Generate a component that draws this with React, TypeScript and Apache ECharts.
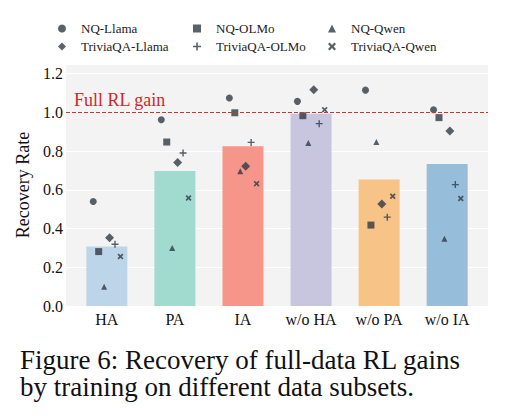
import React, { useEffect, useRef } from "react";
import * as echarts from "echarts";

// Training subsets on the x axis
const categories = ["HA", "PA", "IA", "w/o HA", "w/o PA", "w/o IA"];

// Mean recovery rate per subset (bars)
const barValues = [0.307, 0.697, 0.825, 0.993, 0.653, 0.733];

// Per-run recovery rates (markers)
const nqLlama = [0.54, 0.962, 1.074, 1.057, 1.115, 1.014];
const nqOlmo = [0.281, 0.847, 0.998, 0.983, 0.418, 0.973];
const nqQwen = [0.099, 0.3, 0.696, 0.842, 0.847, 0.347];
const triviaLlama = [0.353, 0.741, 0.722, 1.117, 0.527, 0.904];
const triviaOlmo = [0.319, 0.79, 0.845, 0.942, 0.459, 0.627];
const triviaQwen = [0.256, 0.558, 0.632, 1.014, 0.567, 0.555];

const yTicks = [0, 0.2, 0.4, 0.6, 0.8, 1.0, 1.2];
const fullGain = 1.0;

const barColors = ["#bdd5e9", "#a1dacf", "#f6968b", "#c8c5df", "#f8c386", "#96bedb"];
const markerColor = "#2f3a44";
const serif = "Liberation Serif";

const PLUS = "path://M4,0H6V4H10V6H6V10H4V6H0V4H4Z";
const CROSS = "path://M0,2L2,0L5,3L8,0L10,2L7,5L10,8L8,10L5,7L2,10L0,8L3,5Z";

const runSeries = [
  { name: "NQ-Llama", values: nqLlama, symbol: "circle", size: 7 },
  { name: "NQ-OLMo", values: nqOlmo, symbol: "rect", size: 7 },
  { name: "NQ-Qwen", values: nqQwen, symbol: "triangle", size: 6 },
  { name: "TriviaQA-Llama", values: triviaLlama, symbol: "diamond", size: 9 },
  { name: "TriviaQA-OLMo", values: triviaOlmo, symbol: PLUS, size: 7 },
  { name: "TriviaQA-Qwen", values: triviaQwen, symbol: CROSS, size: 6 },
];

// dodge spacing between the six run markers within a category
const dodgeStep = 0.08;

export default function App() {
  const ref = useRef<HTMLDivElement>(null);

  useEffect(() => {
    if (!ref.current) return;
    const chart = echarts.init(ref.current, null, { renderer: "svg" });

    const legendCol = (names: string[], left: number) => ({
      orient: "vertical" as const,
      left,
      top: 17,
      itemWidth: 8,
      itemHeight: 8,
      itemGap: 5,
      data: names,
      textStyle: {
        fontFamily: serif,
        fontSize: 13,
        lineHeight: 13,
        color: "#222",
        padding: [0, 0, 0, 10],
      },
    });

    chart.setOption({
      animation: false,
      textStyle: { fontFamily: serif },
      title: {
        text: "Figure 6: Recovery of full-data RL gains\nby training on different data subsets.",
        left: 15,
        top: 341,
        textStyle: {
          fontFamily: serif,
          fontSize: 27,
          lineHeight: 27,
          fontWeight: "normal",
          color: "#111",
        },
      },
      legend: [
        legendCol(["NQ-Llama", "TriviaQA-Llama"], 53),
        legendCol(["NQ-OLMo", "TriviaQA-OLMo"], 188),
        legendCol(["NQ-Qwen", "TriviaQA-Qwen"], 323),
      ],
      grid: {
        left: 66,
        right: 20,
        top: 64,
        bottom: 110,
        show: true,
        backgroundColor: "#f3f3f3",
        borderWidth: 0,
      },
      xAxis: {
        type: "value",
        min: -0.6,
        max: 5.6,
        axisLine: { show: false },
        axisTick: { show: false },
        splitLine: { show: false },
        axisLabel: {
          customValues: categories.map((_, i) => i),
          formatter: (v: number) => categories[Math.round(v)] ?? "",
          fontFamily: serif,
          fontSize: 16,
          color: "#111",
          margin: 5,
        },
      },
      yAxis: {
        type: "value",
        min: 0,
        max: 1.25,
        interval: 0.2,
        name: "Recovery Rate",
        nameLocation: "middle",
        nameGap: 30,
        nameTextStyle: { fontFamily: serif, fontSize: 18, color: "#111" },
        axisLine: { show: false },
        axisTick: { show: false },
        splitLine: { lineStyle: { color: "#ffffff", width: 1 } },
        axisLabel: {
          customValues: yTicks,
          formatter: (v: number) => v.toFixed(1),
          fontFamily: serif,
          fontSize: 16,
          color: "#111",
          margin: 3,
        },
      },
      series: [
        {
          type: "bar",
          name: "mean",
          barWidth: 41,
          data: barValues.map((v, i) => ({
            value: [i, v],
            itemStyle: { color: barColors[i] },
          })),
          markLine: {
            silent: true,
            symbol: "none",
            data: [{ yAxis: fullGain }],
            lineStyle: { color: "#d9302c", type: [4, 2], width: 1.2 },
            label: {
              show: true,
              position: "insideStartTop",
              formatter: "Full RL gain",
              distance: [8, 3],
              fontFamily: serif,
              fontSize: 18,
              color: "#cc2a2a",
            },
          },
          z: 1,
        },
        ...runSeries.map((s, k) => ({
          type: "scatter",
          name: s.name,
          symbol: s.symbol,
          symbolSize: s.size,
          itemStyle: { color: markerColor },
          data: s.values.map((v, i) => [i + (k - 2.5) * dodgeStep, v]),
          z: 3,
        })),
      ],
    });

    return () => chart.dispose();
  }, []);

  return (
    <div
      ref={ref}
      style={{ position: "absolute", left: 0, top: 0, width: 508, height: 416, background: "#fff" }}
    />
  );
}
